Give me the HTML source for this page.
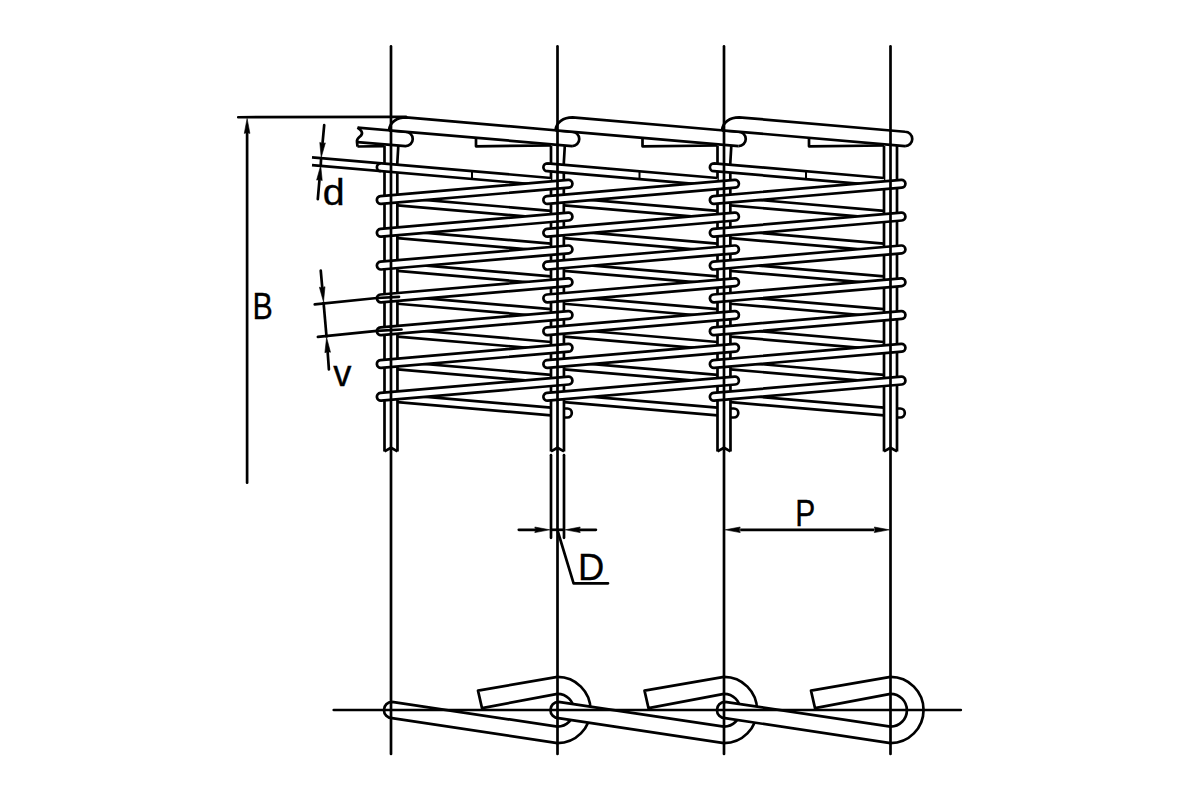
<!DOCTYPE html>
<html><head><meta charset="utf-8"><style>
html,body{margin:0;padding:0;background:#fff;width:1200px;height:800px;overflow:hidden}
svg{display:block}
</style></head><body>
<svg width="1200" height="800" viewBox="0 0 1200 800">
<rect width="1200" height="800" fill="#fff"/>
<g fill="none" stroke="#000" stroke-linejoin="round">
<line x1="397.5" y1="197.53" x2="551" y2="210.78" stroke-width="2.7" stroke-linecap="butt"/>
<line x1="397.5" y1="205.36" x2="551" y2="218.6" stroke-width="2.7" stroke-linecap="butt"/>
<line x1="397.5" y1="230.33" x2="551" y2="243.58" stroke-width="2.7" stroke-linecap="butt"/>
<line x1="397.5" y1="238.16" x2="551" y2="251.4" stroke-width="2.7" stroke-linecap="butt"/>
<line x1="397.5" y1="263.13" x2="551" y2="276.38" stroke-width="2.7" stroke-linecap="butt"/>
<line x1="397.5" y1="270.96" x2="551" y2="284.2" stroke-width="2.7" stroke-linecap="butt"/>
<line x1="397.5" y1="295.93" x2="551" y2="309.18" stroke-width="2.7" stroke-linecap="butt"/>
<line x1="397.5" y1="303.76" x2="551" y2="317" stroke-width="2.7" stroke-linecap="butt"/>
<line x1="397.5" y1="328.73" x2="551" y2="341.98" stroke-width="2.7" stroke-linecap="butt"/>
<line x1="397.5" y1="336.56" x2="551" y2="349.8" stroke-width="2.7" stroke-linecap="butt"/>
<line x1="397.5" y1="361.53" x2="551" y2="374.78" stroke-width="2.7" stroke-linecap="butt"/>
<line x1="397.5" y1="369.36" x2="551" y2="382.6" stroke-width="2.7" stroke-linecap="butt"/>
<line x1="397.5" y1="394.33" x2="551" y2="407.58" stroke-width="2.7" stroke-linecap="butt"/>
<line x1="397.5" y1="402.16" x2="551" y2="415.4" stroke-width="2.7" stroke-linecap="butt"/>
<line x1="564" y1="197.53" x2="717.5" y2="210.78" stroke-width="2.7" stroke-linecap="butt"/>
<line x1="564" y1="205.36" x2="717.5" y2="218.6" stroke-width="2.7" stroke-linecap="butt"/>
<line x1="564" y1="230.33" x2="717.5" y2="243.58" stroke-width="2.7" stroke-linecap="butt"/>
<line x1="564" y1="238.16" x2="717.5" y2="251.4" stroke-width="2.7" stroke-linecap="butt"/>
<line x1="564" y1="263.13" x2="717.5" y2="276.38" stroke-width="2.7" stroke-linecap="butt"/>
<line x1="564" y1="270.96" x2="717.5" y2="284.2" stroke-width="2.7" stroke-linecap="butt"/>
<line x1="564" y1="295.93" x2="717.5" y2="309.18" stroke-width="2.7" stroke-linecap="butt"/>
<line x1="564" y1="303.76" x2="717.5" y2="317" stroke-width="2.7" stroke-linecap="butt"/>
<line x1="564" y1="328.73" x2="717.5" y2="341.98" stroke-width="2.7" stroke-linecap="butt"/>
<line x1="564" y1="336.56" x2="717.5" y2="349.8" stroke-width="2.7" stroke-linecap="butt"/>
<line x1="564" y1="361.53" x2="717.5" y2="374.78" stroke-width="2.7" stroke-linecap="butt"/>
<line x1="564" y1="369.36" x2="717.5" y2="382.6" stroke-width="2.7" stroke-linecap="butt"/>
<line x1="564" y1="394.33" x2="717.5" y2="407.58" stroke-width="2.7" stroke-linecap="butt"/>
<line x1="564" y1="402.16" x2="717.5" y2="415.4" stroke-width="2.7" stroke-linecap="butt"/>
<line x1="730.5" y1="197.53" x2="884" y2="210.78" stroke-width="2.7" stroke-linecap="butt"/>
<line x1="730.5" y1="205.36" x2="884" y2="218.6" stroke-width="2.7" stroke-linecap="butt"/>
<line x1="730.5" y1="230.33" x2="884" y2="243.58" stroke-width="2.7" stroke-linecap="butt"/>
<line x1="730.5" y1="238.16" x2="884" y2="251.4" stroke-width="2.7" stroke-linecap="butt"/>
<line x1="730.5" y1="263.13" x2="884" y2="276.38" stroke-width="2.7" stroke-linecap="butt"/>
<line x1="730.5" y1="270.96" x2="884" y2="284.2" stroke-width="2.7" stroke-linecap="butt"/>
<line x1="730.5" y1="295.93" x2="884" y2="309.18" stroke-width="2.7" stroke-linecap="butt"/>
<line x1="730.5" y1="303.76" x2="884" y2="317" stroke-width="2.7" stroke-linecap="butt"/>
<line x1="730.5" y1="328.73" x2="884" y2="341.98" stroke-width="2.7" stroke-linecap="butt"/>
<line x1="730.5" y1="336.56" x2="884" y2="349.8" stroke-width="2.7" stroke-linecap="butt"/>
<line x1="730.5" y1="361.53" x2="884" y2="374.78" stroke-width="2.7" stroke-linecap="butt"/>
<line x1="730.5" y1="369.36" x2="884" y2="382.6" stroke-width="2.7" stroke-linecap="butt"/>
<line x1="730.5" y1="394.33" x2="884" y2="407.58" stroke-width="2.7" stroke-linecap="butt"/>
<line x1="730.5" y1="402.16" x2="884" y2="415.4" stroke-width="2.7" stroke-linecap="butt"/>
<line x1="384.5" y1="146" x2="384.5" y2="451.4" stroke-width="2.7" stroke-linecap="butt"/>
<path d="M398.3 146 L397.3 163 L397.5 451.4" fill="none" stroke-width="2.7" />
<path d="M384.5 451.4 L391 447.8 L397.5 451.4" fill="none" stroke-width="2.7" />
<line x1="551" y1="146" x2="551" y2="451.4" stroke-width="2.7" stroke-linecap="butt"/>
<path d="M564.8 146 L563.8 163 L564 451.4" fill="none" stroke-width="2.7" />
<path d="M551 451.4 L557.5 447.8 L564 451.4" fill="none" stroke-width="2.7" />
<path d="M564 408.5 L567.3 408.5 A4.5 4.5 0 0 1 567.3 417.5 L564 417.5" fill="none" stroke-width="2.7" />
<line x1="717.5" y1="146" x2="717.5" y2="451.4" stroke-width="2.7" stroke-linecap="butt"/>
<path d="M731.3 146 L730.3 163 L730.5 451.4" fill="none" stroke-width="2.7" />
<path d="M717.5 451.4 L724 447.8 L730.5 451.4" fill="none" stroke-width="2.7" />
<path d="M730.5 408.5 L733.8 408.5 A4.5 4.5 0 0 1 733.8 417.5 L730.5 417.5" fill="none" stroke-width="2.7" />
<line x1="884" y1="146" x2="884" y2="451.4" stroke-width="2.7" stroke-linecap="butt"/>
<line x1="897" y1="146" x2="897" y2="451.4" stroke-width="2.7" stroke-linecap="butt"/>
<path d="M884 451.4 L890.5 447.8 L897 451.4" fill="none" stroke-width="2.7" />
<path d="M897 408.5 L900.3 408.5 A4.5 4.5 0 0 1 900.3 417.5 L897 417.5" fill="none" stroke-width="2.7" />
<path d="M380.8 163.29 L551 177.98 L551 185.8 L380.8 171.11 Z" fill="#fff" stroke-width="2.7" stroke="none"/>
<path d="M312 157.35 L551 177.98 M312 165.18 L551 185.8" fill="none" stroke-width="2.7" />
<path d="M380.8 163.29 A3.9 3.9 0 0 0 380.8 171.11" fill="none" stroke-width="2.7" />
<line x1="472" y1="171.16" x2="472" y2="178.99" stroke-width="2" stroke-linecap="butt"/>
<path d="M547.3 163.29 L717.5 177.98 L717.5 185.8 L547.3 171.11 A3.9 3.9 0 0 1 547.3 163.29 Z" fill="#fff" stroke-width="2.7" stroke="none"/>
<path d="M717.5 177.98 L547.3 163.29 M717.5 185.8 L547.3 171.11 A3.9 3.9 0 0 1 547.3 163.29" fill="none" stroke-width="2.7" />
<line x1="639.5" y1="171.24" x2="639.5" y2="179.07" stroke-width="2" stroke-linecap="butt"/>
<path d="M713.8 163.29 L884 177.98 L884 185.8 L713.8 171.11 A3.9 3.9 0 0 1 713.8 163.29 Z" fill="#fff" stroke-width="2.7" stroke="none"/>
<path d="M884 177.98 L713.8 163.29 M884 185.8 L713.8 171.11 A3.9 3.9 0 0 1 713.8 163.29" fill="none" stroke-width="2.7" />
<line x1="806" y1="171.24" x2="806" y2="179.07" stroke-width="2" stroke-linecap="butt"/>
<path d="M380.46 196.11 L568.16 179.91 A3.9 3.9 0 0 1 568.84 187.69 L381.14 203.89 A3.9 3.9 0 0 1 380.46 196.11 Z" fill="#fff" stroke-width="2.7" />
<path d="M380.46 228.91 L568.16 212.71 A3.9 3.9 0 0 1 568.84 220.49 L381.14 236.69 A3.9 3.9 0 0 1 380.46 228.91 Z" fill="#fff" stroke-width="2.7" />
<path d="M380.46 261.71 L568.16 245.51 A3.9 3.9 0 0 1 568.84 253.29 L381.14 269.49 A3.9 3.9 0 0 1 380.46 261.71 Z" fill="#fff" stroke-width="2.7" />
<path d="M380.46 294.51 L568.16 278.31 A3.9 3.9 0 0 1 568.84 286.09 L381.14 302.29 A3.9 3.9 0 0 1 380.46 294.51 Z" fill="#fff" stroke-width="2.7" />
<path d="M380.46 327.31 L568.16 311.11 A3.9 3.9 0 0 1 568.84 318.89 L381.14 335.09 A3.9 3.9 0 0 1 380.46 327.31 Z" fill="#fff" stroke-width="2.7" />
<path d="M380.46 360.11 L568.16 343.91 A3.9 3.9 0 0 1 568.84 351.69 L381.14 367.89 A3.9 3.9 0 0 1 380.46 360.11 Z" fill="#fff" stroke-width="2.7" />
<path d="M380.46 392.91 L568.16 376.71 A3.9 3.9 0 0 1 568.84 384.49 L381.14 400.69 A3.9 3.9 0 0 1 380.46 392.91 Z" fill="#fff" stroke-width="2.7" />
<path d="M546.96 196.11 L734.66 179.91 A3.9 3.9 0 0 1 735.34 187.69 L547.64 203.89 A3.9 3.9 0 0 1 546.96 196.11 Z" fill="#fff" stroke-width="2.7" />
<path d="M546.96 228.91 L734.66 212.71 A3.9 3.9 0 0 1 735.34 220.49 L547.64 236.69 A3.9 3.9 0 0 1 546.96 228.91 Z" fill="#fff" stroke-width="2.7" />
<path d="M546.96 261.71 L734.66 245.51 A3.9 3.9 0 0 1 735.34 253.29 L547.64 269.49 A3.9 3.9 0 0 1 546.96 261.71 Z" fill="#fff" stroke-width="2.7" />
<path d="M546.96 294.51 L734.66 278.31 A3.9 3.9 0 0 1 735.34 286.09 L547.64 302.29 A3.9 3.9 0 0 1 546.96 294.51 Z" fill="#fff" stroke-width="2.7" />
<path d="M546.96 327.31 L734.66 311.11 A3.9 3.9 0 0 1 735.34 318.89 L547.64 335.09 A3.9 3.9 0 0 1 546.96 327.31 Z" fill="#fff" stroke-width="2.7" />
<path d="M546.96 360.11 L734.66 343.91 A3.9 3.9 0 0 1 735.34 351.69 L547.64 367.89 A3.9 3.9 0 0 1 546.96 360.11 Z" fill="#fff" stroke-width="2.7" />
<path d="M546.96 392.91 L734.66 376.71 A3.9 3.9 0 0 1 735.34 384.49 L547.64 400.69 A3.9 3.9 0 0 1 546.96 392.91 Z" fill="#fff" stroke-width="2.7" />
<path d="M713.46 196.11 L901.16 179.91 A3.9 3.9 0 0 1 901.84 187.69 L714.14 203.89 A3.9 3.9 0 0 1 713.46 196.11 Z" fill="#fff" stroke-width="2.7" />
<path d="M713.46 228.91 L901.16 212.71 A3.9 3.9 0 0 1 901.84 220.49 L714.14 236.69 A3.9 3.9 0 0 1 713.46 228.91 Z" fill="#fff" stroke-width="2.7" />
<path d="M713.46 261.71 L901.16 245.51 A3.9 3.9 0 0 1 901.84 253.29 L714.14 269.49 A3.9 3.9 0 0 1 713.46 261.71 Z" fill="#fff" stroke-width="2.7" />
<path d="M713.46 294.51 L901.16 278.31 A3.9 3.9 0 0 1 901.84 286.09 L714.14 302.29 A3.9 3.9 0 0 1 713.46 294.51 Z" fill="#fff" stroke-width="2.7" />
<path d="M713.46 327.31 L901.16 311.11 A3.9 3.9 0 0 1 901.84 318.89 L714.14 335.09 A3.9 3.9 0 0 1 713.46 327.31 Z" fill="#fff" stroke-width="2.7" />
<path d="M713.46 360.11 L901.16 343.91 A3.9 3.9 0 0 1 901.84 351.69 L714.14 367.89 A3.9 3.9 0 0 1 713.46 360.11 Z" fill="#fff" stroke-width="2.7" />
<path d="M713.46 392.91 L901.16 376.71 A3.9 3.9 0 0 1 901.84 384.49 L714.14 400.69 A3.9 3.9 0 0 1 713.46 392.91 Z" fill="#fff" stroke-width="2.7" />
<path d="M357.5 127.57 L405.6 131.75 A7.15 7.15 0 0 1 405.6 146.05 L357.5 142.07 Z" fill="#fff" stroke-width="2.7" stroke="none"/>
<path d="M357.5 127.57 L405.6 131.75 A7.15 7.15 0 0 1 405.6 146.05 L357.5 142.07" fill="none" stroke-width="2.7" />
<path d="M357.5 127.57 C361 130.07 363.5 132.57 361 135.57 C358.5 138.07 356.5 138.57 357 142.07 L357.5 146.6" fill="none" stroke-width="2.7" />
<path d="M357.5 146.5 L384.5 146.2" fill="none" stroke-width="2.7" />
<path d="M389 130.31 C389.5 122.31 397 117.3 406 117.3 L572.1 131.75 A7.15 7.15 0 0 1 572.1 146.05 L389 130.31 Z" fill="#fff" stroke-width="2.7" stroke="none"/>
<path d="M389 130.31 C389.5 122.31 397 117.3 406 117.3 L572.1 131.75 A7.15 7.15 0 0 1 572.1 146.05" fill="none" stroke-width="2.7" />
<line x1="389" y1="130.31" x2="572.1" y2="146.05" stroke-width="2.7" stroke-linecap="butt"/>
<path d="M476 137.88 L476 146.3 L551 145.5" fill="none" stroke-width="2.7" />
<path d="M555.5 130.31 C556 122.31 563.5 117.3 572.5 117.3 L738.6 131.75 A7.15 7.15 0 0 1 738.6 146.05 L555.5 130.31 Z" fill="#fff" stroke-width="2.7" stroke="none"/>
<path d="M555.5 130.31 C556 122.31 563.5 117.3 572.5 117.3 L738.6 131.75 A7.15 7.15 0 0 1 738.6 146.05" fill="none" stroke-width="2.7" />
<line x1="555.5" y1="130.31" x2="738.6" y2="146.05" stroke-width="2.7" stroke-linecap="butt"/>
<path d="M642.5 137.88 L642.5 146.3 L717.5 145.5" fill="none" stroke-width="2.7" />
<path d="M722 130.31 C722.5 122.31 730 117.3 739 117.3 L905.1 131.75 A7.15 7.15 0 0 1 905.1 146.05 L722 130.31 Z" fill="#fff" stroke-width="2.7" stroke="none"/>
<path d="M722 130.31 C722.5 122.31 730 117.3 739 117.3 L905.1 131.75 A7.15 7.15 0 0 1 905.1 146.05" fill="none" stroke-width="2.7" />
<line x1="722" y1="130.31" x2="905.1" y2="146.05" stroke-width="2.7" stroke-linecap="butt"/>
<path d="M809 137.88 L809 146.3 L884 145.5" fill="none" stroke-width="2.7" />
<line x1="238.25" y1="117.25" x2="406" y2="116.8" stroke-width="2.7" stroke-linecap="round"/>
<path d="M557.5 676.9 A33.1 33.1 0 0 1 557.5 743.1" fill="none" stroke-width="2.7" />
<path d="M557.5 693.8 A16.4 16.4 0 0 1 557.5 726.6" fill="none" stroke-width="2.7" />
<path d="M557.5 676.9 L478 690.6 L482 708.1 L557.5 693.8" fill="none" stroke-width="2.7" />
<path d="M724 676.9 A33.1 33.1 0 0 1 724 743.1" fill="none" stroke-width="2.7" />
<path d="M724 693.8 A16.4 16.4 0 0 1 724 726.6" fill="none" stroke-width="2.7" />
<path d="M724 676.9 L644.5 690.6 L648.5 708.1 L724 693.8" fill="none" stroke-width="2.7" />
<path d="M890.5 676.9 A33.1 33.1 0 0 1 890.5 743.1" fill="none" stroke-width="2.7" />
<path d="M890.5 693.8 A16.4 16.4 0 0 1 890.5 726.6" fill="none" stroke-width="2.7" />
<path d="M890.5 676.9 L811 690.6 L815 708.1 L890.5 693.8" fill="none" stroke-width="2.7" />
<path d="M557.5 726.6 L392 701.9 M557.5 743.1 L392 718.1 A8.1 8.1 0 0 1 392 701.9" fill="none" stroke-width="2.7" />
<path d="M558.5 701.9 L597.5 707.48 L597.5 723.95 L558.5 718.1 A8.1 8.1 0 0 1 558.5 701.9 Z" fill="#fff" stroke-width="2.7" stroke="none"/>
<path d="M724 726.6 L558.5 701.9 M724 743.1 L558.5 718.1 A8.1 8.1 0 0 1 558.5 701.9" fill="none" stroke-width="2.7" />
<path d="M725 701.9 L764 707.48 L764 723.95 L725 718.1 A8.1 8.1 0 0 1 725 701.9 Z" fill="#fff" stroke-width="2.7" stroke="none"/>
<path d="M890.5 726.6 L725 701.9 M890.5 743.1 L725 718.1 A8.1 8.1 0 0 1 725 701.9" fill="none" stroke-width="2.7" />
<line x1="333.75" y1="710" x2="960.8" y2="710" stroke-width="2.7" stroke-linecap="round"/>
<line x1="391" y1="46.4" x2="391" y2="754" stroke-width="2.7" stroke-linecap="round"/>
<line x1="557.5" y1="46.4" x2="557.5" y2="754" stroke-width="2.7" stroke-linecap="round"/>
<line x1="724" y1="46.4" x2="724" y2="754" stroke-width="2.7" stroke-linecap="round"/>
<line x1="890.5" y1="46.4" x2="890.5" y2="754" stroke-width="2.7" stroke-linecap="round"/>
<path d="M247.1 118.4 L249.9 133.4 Q247.1 132.2 247.1 133.4 Q247.1 132.2 244.3 133.4 Z" fill="#000" stroke="#000" stroke-width="0.6"/>
<line x1="247.1" y1="482.75" x2="247.1" y2="133.4" stroke-width="2.7" stroke-linecap="round"/>
<path d="M321.2 157.6 L319.79 142.41 Q322.47 143.86 322.58 142.66 Q322.47 143.86 325.37 142.92 Z" fill="#000" stroke="#000" stroke-width="0.6"/>
<line x1="324.2" y1="125.2" x2="322.58" y2="142.66" stroke-width="2.7" stroke-linecap="round"/>
<path d="M320.7 165.4 L322.21 180.58 Q319.52 179.15 319.42 180.35 Q319.52 179.15 316.63 180.11 Z" fill="#000" stroke="#000" stroke-width="0.6"/>
<line x1="317.8" y1="199.2" x2="319.42" y2="180.35" stroke-width="2.7" stroke-linecap="round"/>
<line x1="321.2" y1="157" x2="320.7" y2="166" stroke-width="2.7" stroke-linecap="butt"/>
<path d="M323.5 301.9 L319.4 287.2 Q322.29 288.15 322.19 286.96 Q322.29 288.15 324.98 286.71 Z" fill="#000" stroke="#000" stroke-width="0.6"/>
<line x1="320.75" y1="270.6" x2="322.19" y2="286.96" stroke-width="2.7" stroke-linecap="round"/>
<path d="M326.6 337.5 L330.47 352.26 Q327.59 351.26 327.68 352.46 Q327.59 351.26 324.89 352.66 Z" fill="#000" stroke="#000" stroke-width="0.6"/>
<line x1="328.9" y1="369.4" x2="327.68" y2="352.46" stroke-width="2.7" stroke-linecap="round"/>
<line x1="323.5" y1="301.9" x2="326.6" y2="337.5" stroke-width="2.7" stroke-linecap="butt"/>
<path d="M314.75 304.4 L377 298.0 L399 296.9" fill="none" stroke-width="2.7" stroke-linecap="round"/>
<path d="M317.9 336.9 L377 330.8 L401.5 329.5" fill="none" stroke-width="2.7" stroke-linecap="round"/>
<line x1="551" y1="455.2" x2="551" y2="537.8" stroke-width="2.7" stroke-linecap="round"/>
<line x1="564" y1="455.2" x2="564" y2="537.8" stroke-width="2.7" stroke-linecap="round"/>
<path d="M549.8 529.8 L534.8 532.6 Q536 529.8 534.8 529.8 Q536 529.8 534.8 527 Z" fill="#000" stroke="#000" stroke-width="0.6"/>
<line x1="518.8" y1="529.8" x2="534.8" y2="529.8" stroke-width="2.7" stroke-linecap="round"/>
<path d="M565.2 529.8 L580.2 527 Q579 529.8 580.2 529.8 Q579 529.8 580.2 532.6 Z" fill="#000" stroke="#000" stroke-width="0.6"/>
<line x1="595.9" y1="529.8" x2="580.2" y2="529.8" stroke-width="2.7" stroke-linecap="round"/>
<line x1="551" y1="529.8" x2="564" y2="529.8" stroke-width="2.7" stroke-linecap="butt"/>
<path d="M558 532 L573.6 583.3 L608.0 583.3" fill="none" stroke-width="2.7" stroke-linecap="round"/>
<path d="M725.2 529.8 L740.2 527 Q739 529.8 740.2 529.8 Q739 529.8 740.2 532.6 Z" fill="#000" stroke="#000" stroke-width="0.6"/>
<path d="M889.3 529.8 L874.3 532.6 Q875.5 529.8 874.3 529.8 Q875.5 529.8 874.3 527 Z" fill="#000" stroke="#000" stroke-width="0.6"/>
<line x1="740.2" y1="529.8" x2="874.3" y2="529.8" stroke-width="2.7" stroke-linecap="butt"/>
</g>
<g font-family="Liberation Sans, sans-serif" fill="#000" stroke="#000" stroke-width="0.35" font-size="37.5">
<text transform="translate(252.6 318.6) scale(0.81 1)">B</text>
<text transform="translate(322.85 204.6) scale(1.05 1)">d</text>
<text transform="translate(333.35 385.5) scale(0.97 1)">v</text>
<text transform="translate(577.9 579.7) scale(0.97 1)">D</text>
<text transform="translate(795.3 525.9) scale(0.8 1)">P</text>
</g>
</svg>
</body></html>
